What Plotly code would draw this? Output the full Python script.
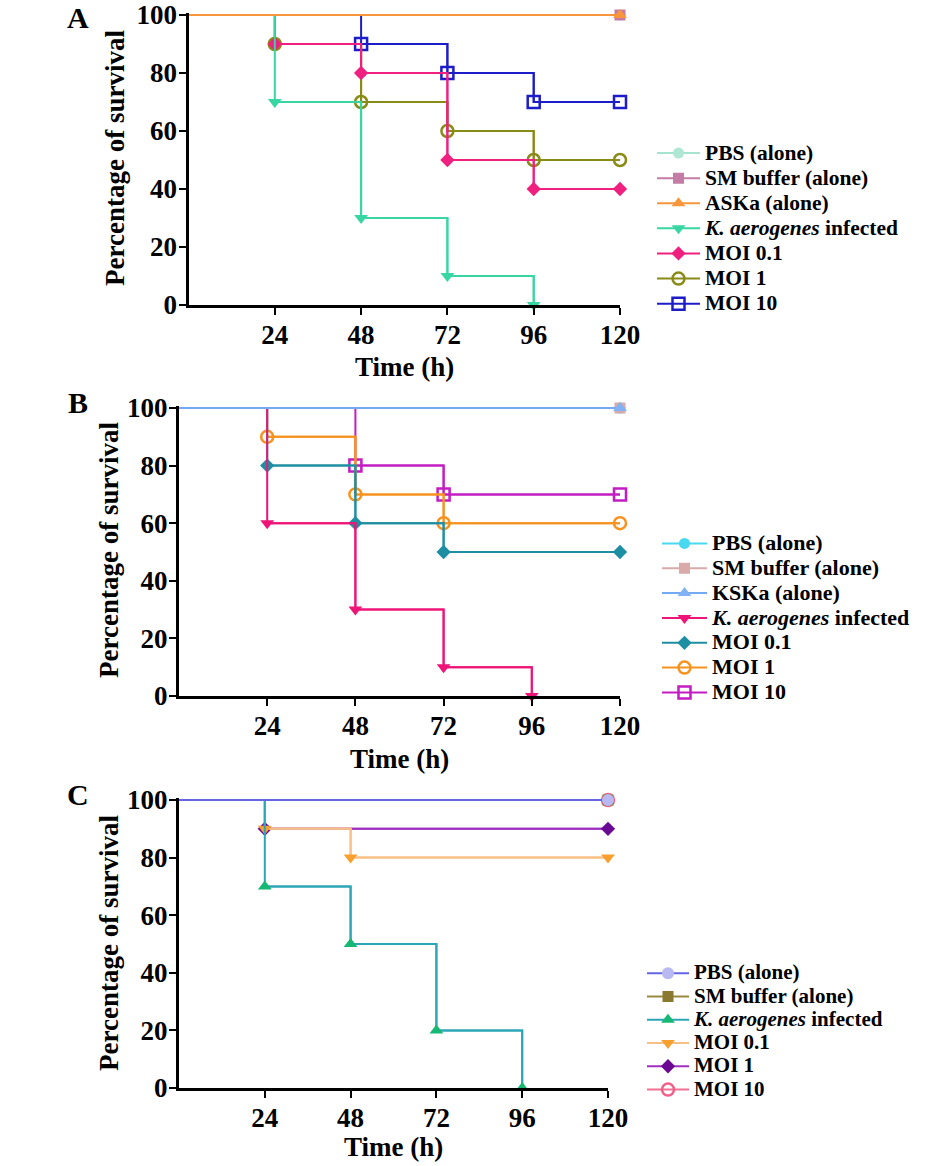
import plotly.graph_objects as go

# ---------------- data ----------------
times = [0, 24, 48, 72, 96, 120]
x_ticks = [24, 48, 72, 96, 120]
y_ticks = [0, 20, 40, 60, 80, 100]

a_labels = ["PBS (alone)", "SM buffer (alone)", "ASKa (alone)",
            "<i>K. aerogenes</i> infected", "MOI 0.1", "MOI 1", "MOI 10"]
a_pbs = [100, 100, 100, 100, 100, 100]
a_sm = [100, 100, 100, 100, 100, 100]
a_aska = [100, 100, 100, 100, 100, 100]
a_kinf = [100, 70, 30, 10, 0, None]
a_moi01 = [100, 90, 80, 50, 40, 40]
a_moi1 = [100, 90, 70, 60, 50, 50]
a_moi10 = [100, 100, 90, 80, 70, 70]

b_labels = ["PBS (alone)", "SM buffer (alone)", "KSKa (alone)",
            "<i>K. aerogenes</i> infected", "MOI 0.1", "MOI 1", "MOI 10"]
b_pbs = [100, 100, 100, 100, 100, 100]
b_sm = [100, 100, 100, 100, 100, 100]
b_kska = [100, 100, 100, 100, 100, 100]
b_kinf = [100, 60, 30, 10, 0, None]
b_moi01 = [100, 80, 60, 50, 50, 50]
b_moi1 = [100, 90, 70, 60, 60, 60]
b_moi10 = [100, 100, 80, 70, 70, 70]

c_labels = ["PBS (alone)", "SM buffer (alone)", "<i>K. aerogenes</i> infected",
            "MOI 0.1", "MOI 1", "MOI 10"]
c_pbs = [100, 100, 100, 100, 100, 100]
c_sm = [100, 100, 100, 100, 100, 100]
c_kinf = [100, 70, 50, 20, 0, None]
c_moi01 = [100, 90, 80, 80, 80, 80]
c_moi1 = [100, 90, 90, 90, 90, 90]
c_moi10 = [100, 100, 100, 100, 100, 100]

# ---------------- styles ----------------
# (line colour, marker colour, symbol, size, open)
a_styles = [("#a6e4cf", "#aee8d4", "circle", 11, False),
            ("#c47ca6", "#c47ca6", "square", 11, False),
            ("#f7963a", "#f7963a", "triangle-up", 12, False),
            ("#38d6a2", "#38d6a2", "triangle-down", 12, False),
            ("#ef2080", "#ef2080", "diamond", 11, False),
            ("#8a8a16", "#8a8a16", "circle-open", 12, True),
            ("#1c1cc8", "#1c1cc8", "square-open", 12, True)]
b_styles = [("#48d8f0", "#48d8f0", "circle", 11, False),
            ("#d8aaa8", "#d8aaa8", "square", 11, False),
            ("#74aaf2", "#80b2f4", "triangle-up", 12, False),
            ("#ee1478", "#ee1478", "triangle-down", 12, False),
            ("#1e8fa2", "#1e8fa2", "diamond", 11, False),
            ("#f7921e", "#f7921e", "circle-open", 12, True),
            ("#c21cc2", "#c21cc2", "square-open", 12, True)]
c_styles = [("#6464e4", "#b8b8f2", "circle", 12, False),
            ("#9a8a40", "#8a7a30", "square", 11, False),
            ("#2aa6b6", "#16b874", "triangle-up", 12, False),
            ("#f8c084", "#f7a030", "triangle-down", 12, False),
            ("#a030c0", "#6a0a92", "diamond", 11, False),
            ("#f27092", "#f06088", "circle-open", 12, True)]

FONT = "Liberation Serif"
W, H = 948, 1166

fig = go.Figure()


def add_panel(series, labels, styles, xa, ya, legend, text_px, draw_order):
    for k in draw_order:
        ys = series[k]
        lc, mc, sym, size, is_open = styles[k]
        xs = [t for t, v in zip(times, ys) if v is not None]
        vs = [v for v in ys if v is not None]
        # event points: where the value changes, plus the last observed point
        idx = [i for i in range(1, len(vs)) if vs[i] != vs[i - 1] or i == len(vs) - 1]
        mx = [xs[i] for i in idx]
        my = [vs[i] for i in idx]
        marker = dict(symbol=sym, size=size, color=mc)
        if is_open:
            marker["line"] = dict(color=mc, width=2.5)
        fig.add_trace(go.Scatter(x=xs, y=vs, mode="lines", line=dict(color=lc, width=2, shape="hv"),
                                 xaxis=xa, yaxis=ya, showlegend=False, hoverinfo="skip",
                                 cliponaxis=False))
        fig.add_trace(go.Scatter(x=mx, y=my, mode="lines+markers",
                                 line=dict(color=lc, width=2, shape="hv"), marker=marker,
                                 name=f'<span style="font-size:{text_px}px">{labels[k]}</span>',
                                 xaxis=xa, yaxis=ya, legend=legend, legendrank=k + 1,
                                 cliponaxis=False))


add_panel([a_pbs, a_sm, a_aska, a_kinf, a_moi01, a_moi1, a_moi10], a_labels, a_styles,
          "x", "y", "legend", 21.5, [6, 5, 4, 3, 0, 1, 2])
add_panel([b_pbs, b_sm, b_kska, b_kinf, b_moi01, b_moi1, b_moi10], b_labels, b_styles,
          "x2", "y2", "legend2", 22, [6, 5, 4, 3, 0, 1, 2])
add_panel([c_pbs, c_sm, c_kinf, c_moi01, c_moi1, c_moi10], c_labels, c_styles,
          "x3", "y3", "legend3", 21, [5, 4, 3, 2, 1, 0])


def xdom(a, b):
    return [a / W, b / W]


def ydom(top, bottom):
    return [1 - bottom / H, 1 - top / H]


Y_TOP = 100.7  # tiny headroom so the 100 % lines are not clipped
tickfont = dict(family=FONT, size=27, color="black", weight="bold")
common_x = dict(range=[0, 120], tickvals=x_ticks, ticks="outside", ticklen=7, tickwidth=2,
                tickcolor="black", showline=True, linewidth=3, linecolor="black",
                showgrid=False, zeroline=False, tickfont=tickfont, automargin=False,
                ticklabelstandoff=-3)
common_y = dict(range=[0, Y_TOP], tickvals=y_ticks, ticks="outside", ticklen=7, tickwidth=2,
                tickcolor="black", showline=True, linewidth=3, linecolor="black",
                showgrid=False, zeroline=False, tickfont=tickfont, automargin=False,
                ticklabelstandoff=-4)

panels = [
    # x-left, x-right, y-of-100, y-of-0 (pixels)
    (188.5, 620, 15, 305),
    (179, 620, 408, 696),
    (179, 608, 800, 1088),
]
names = ["", "2", "3"]
for (xl, xr, yt, yb), n in zip(panels, names):
    top = yb - (yb - yt) * Y_TOP / 100
    fig.layout["xaxis" + n] = dict(domain=xdom(xl, xr), anchor="y" + n, **common_x)
    fig.layout["yaxis" + n] = dict(domain=ydom(top, yb), anchor="x" + n, **common_y)

legend_common = dict(bgcolor="rgba(0,0,0,0)", borderwidth=0, xanchor="left", yanchor="top",
                     traceorder="normal")
fig.update_layout(
    width=W, height=H, margin=dict(l=0, r=0, t=0, b=0, pad=0, autoexpand=False),
    paper_bgcolor="white", plot_bgcolor="white",
    legend=dict(x=652 / W, y=1 - 135.5 / H, itemwidth=43,
                font=dict(family=FONT, size=17, color="black", weight="bold"), **legend_common),
    legend2=dict(x=657 / W, y=1 - 526 / H, itemwidth=45,
                 font=dict(family=FONT, size=16.8, color="black", weight="bold"), **legend_common),
    legend3=dict(x=642 / W, y=1 - 956.5 / H, itemwidth=42,
                 font=dict(family=FONT, size=15.6, color="black", weight="bold"), **legend_common),
)

ann = []
title_font = dict(family=FONT, size=27, color="black", weight="bold")
letter_font = dict(family=FONT, size=30, color="black", weight="bold")
ann.append(dict(text="A", x=78 / W, y=1, xref="paper", yref="paper", showarrow=False,
                font=letter_font, xanchor="center", yanchor="top", borderpad=0))
for letter, lx, ly in [("B", 78, 402), ("C", 78, 795)]:
    ann.append(dict(text=letter, x=lx / W, y=1 - ly / H, xref="paper", yref="paper",
                    showarrow=False, font=letter_font, xanchor="center", yanchor="middle"))
for tx, ty in [(115, 158), (109, 550), (109, 943)]:
    ann.append(dict(text="Percentage of survival", x=tx / W, y=1 - ty / H, xref="paper",
                    yref="paper", showarrow=False, textangle=-90, font=title_font,
                    xanchor="center", yanchor="middle"))
for tx, ty in [(404, 367), (399, 759), (393, 1147)]:
    ann.append(dict(text="Time (h)", x=tx / W, y=1 - ty / H, xref="paper", yref="paper",
                    showarrow=False, font=title_font, xanchor="center", yanchor="middle"))
fig.update_layout(annotations=ann)

fig.write_html("out.html")
